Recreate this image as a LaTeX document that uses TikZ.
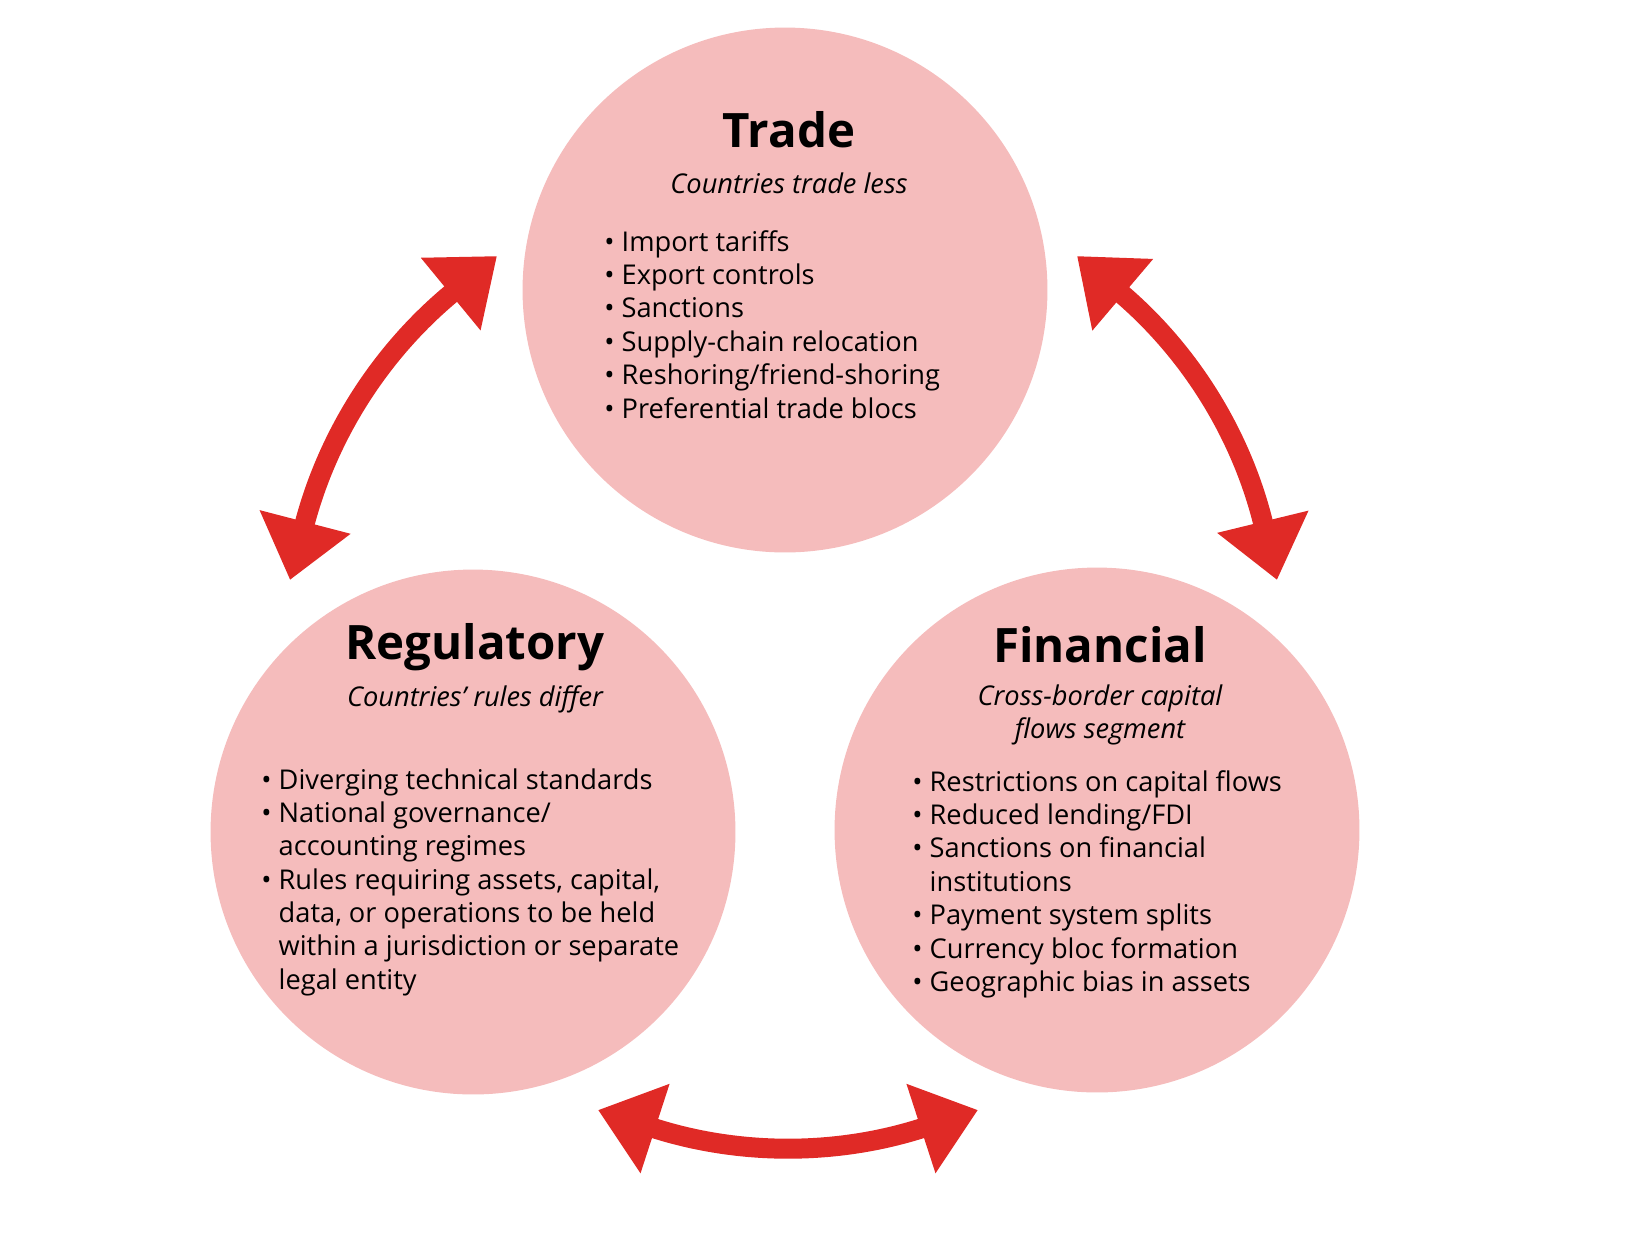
\documentclass[tikz,border=0pt]{standalone}
\usepackage{fontspec}
\setmainfont{Open Sans}
\usetikzlibrary{arrows.meta}
\definecolor{circpink}{RGB}{245,188,188}
\definecolor{arrowred}{RGB}{224,42,38}
\newcommand{\bul}{\textbullet\ }
\newcommand{\ind}{\phantom{\textbullet\ }}
\begin{document}
\begin{tikzpicture}[x=0.02cm,y=-0.02cm,
    sector/.style={circle, fill=circpink, minimum size=10.5cm, inner sep=0pt},
    title/.style={font=\fontsize{27}{30}\selectfont\bfseries},
    subtitle/.style={font=\fontsize{15.5}{19.2}\selectfont\itshape, align=center},
    items/.style={font=\fontsize{15.5}{19}\selectfont, align=left, anchor=north west, inner sep=0pt},
    link/.style={{Triangle[length=1.2cm,width=1.8cm]}-{Triangle[length=1.2cm,width=1.8cm]}, line width=0.4cm, arrowred}
]
\useasboundingbox (0,0) rectangle (1635,1238);

% Circles
\node[sector] (trade) at (785,290) {};
\node[sector] (reg) at (473,832) {};
\node[sector] (fin) at (1097,830) {};

% Trade
\node[title] (tradetitle) at (789,130) {Trade};
\node[subtitle] (tradesub) at (789,183) {Countries trade less};
\node[items] (tradeitems) at (604,230) {\bul Import tariffs\\ \bul Export controls\\ \bul Sanctions\\ \bul Supply-chain relocation\\ \bul Reshoring/friend-shoring\\ \bul Preferential trade blocs};

% Regulatory
\node[title] (regtitle) at (475,647) {Regulatory};
\node[subtitle] (regsub) at (475,699) {Countries' rules differ};
\node[items] (regitems) at (261,768) {\bul Diverging technical standards\\ \bul National governance/\\ \ind accounting regimes\\ \bul Rules requiring assets, capital,\\ \ind data, or operations to be held\\ \ind within a jurisdiction or separate\\ \ind legal entity};

% Financial
\node[title] (fintitle) at (1100,645) {Financial};
\node[subtitle] (finsub) at (1100,715) {Cross-border capital\\flows segment};
\node[items] (finitems) at (912,770) {\bul Restrictions on capital flows\\ \bul Reduced lending/FDI\\ \bul Sanctions on financial\\ \ind institutions\\ \bul Payment system splits\\ \bul Currency bloc formation\\ \bul Geographic bias in assets};

% Arrows
\coordinate (lt) at (497,256);
\coordinate (lb) at (290,580);
\coordinate (rt) at (1077,256);
\coordinate (rb) at (1277,580);
\coordinate (bl) at (598,1110);
\coordinate (br) at (978,1110);
\draw[link] (lt) to[bend right=18] (lb);
\draw[link] (rt) to[bend left=18] (rb);
\draw[link] (bl) to[bend right=18] (br);
\end{tikzpicture}
\end{document}
